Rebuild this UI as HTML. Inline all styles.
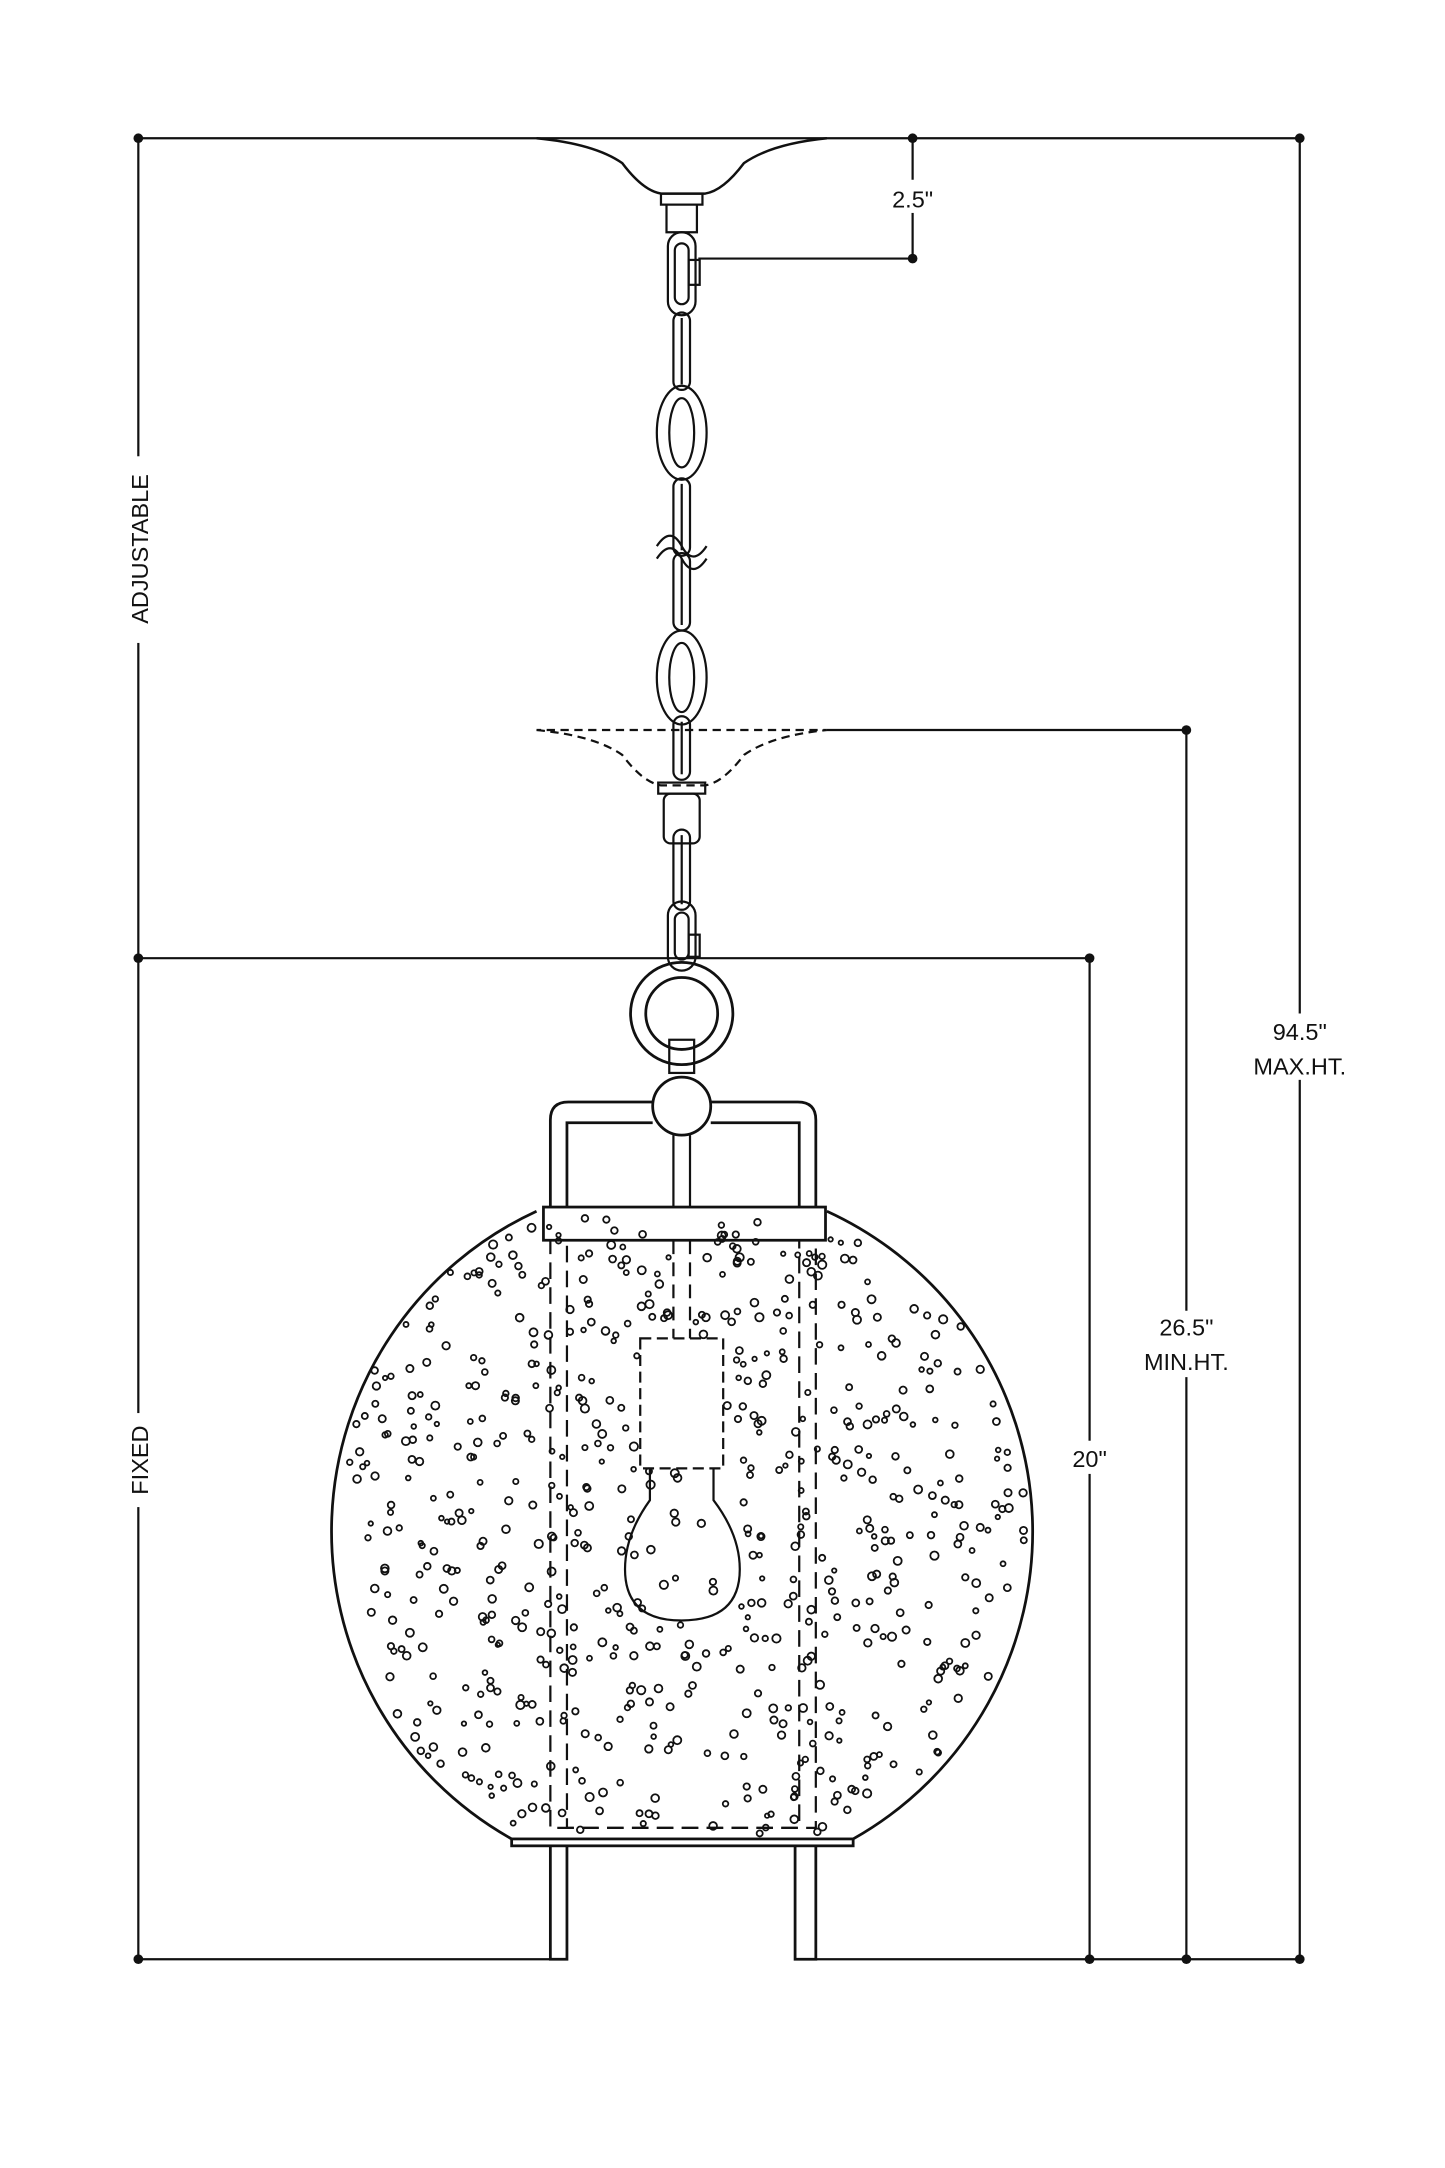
<!DOCTYPE html>
<html><head><meta charset="utf-8">
<style>
html,body{margin:0;padding:0;background:#fff;}
svg{display:block;}
text{font-family:"Liberation Sans",sans-serif;font-size:17px;fill:#111;}
</style></head>
<body>
<svg id="s" width="1445" height="2168" viewBox="0 0 1045 1568" xmlns="http://www.w3.org/2000/svg">
<g stroke="#111" stroke-width="1.6" fill="none">
<line x1="100" y1="100" x2="940" y2="100"/>
<line x1="100" y1="100" x2="100" y2="1417"/>
<line x1="940" y1="100" x2="940" y2="1417"/>
<line x1="660" y1="100" x2="660" y2="187"/>
<line x1="505" y1="187" x2="660" y2="187"/>
<line x1="598" y1="528" x2="858" y2="528"/>
<line x1="858" y1="528" x2="858" y2="1417"/>
<line x1="100" y1="693" x2="788" y2="693"/>
<line x1="788" y1="693" x2="788" y2="1417"/>
<line x1="100" y1="1417" x2="398" y2="1417"/>
<line x1="590" y1="1417" x2="940" y2="1417"/>
<path d="M388 100 Q430 104 450 118 Q465 138 478 140 L510 140 Q523 138 538 118 Q558 104 598 100" stroke-width="1.8"/>
<rect x="478" y="140" width="30" height="8"/>
<path d="M482 148 L482 168 L504 168 L504 148"/>
<path d="M388 528 Q430 532 450 546 Q465 566 478 568 L510 568 Q523 566 538 546 Q558 532 598 528 Z" stroke-dasharray="6,4"/>
<rect x="476" y="566" width="34" height="8"/>
<rect x="480" y="574" width="26" height="36" rx="5"/>
<!-- chain -->
<rect x="483" y="168" width="20" height="60" rx="10"/>
<rect x="488" y="176" width="10" height="44" rx="5"/>
<rect x="498" y="188" width="8" height="18"/>
<rect x="487" y="226" width="12" height="56" rx="6"/><line x1="493" y1="230" x2="493" y2="278"/>
<ellipse cx="493" cy="313" rx="18" ry="34"/><ellipse cx="493" cy="313" rx="9" ry="25"/>
<rect x="487" y="346" width="12" height="56" rx="6"/><line x1="493" y1="350" x2="493" y2="398"/>
<path d="M475 395 Q485 380 493 395 Q501 410 511 395"/>
<path d="M475 404 Q485 389 493 404 Q501 419 511 404"/>
<rect x="487" y="400" width="12" height="56" rx="6"/><line x1="493" y1="404" x2="493" y2="452"/>
<ellipse cx="493" cy="490" rx="18" ry="34"/><ellipse cx="493" cy="490" rx="9" ry="25"/>
<rect x="487" y="518" width="12" height="46" rx="6"/><line x1="493" y1="522" x2="493" y2="560"/>
<rect x="487" y="600" width="12" height="58" rx="6"/><line x1="493" y1="604" x2="493" y2="654"/>
<rect x="483" y="652" width="20" height="50" rx="10"/>
<rect x="488" y="660" width="10" height="34" rx="5"/>
<rect x="498" y="676" width="8" height="16"/>
<circle cx="493" cy="733" r="37" stroke-width="2"/>
<circle cx="493" cy="733" r="26" stroke-width="2"/>
<rect x="484" y="752" width="18" height="24"/>
<circle cx="493" cy="800" r="21" stroke-width="2"/>
<path d="M398 873 L398 810 Q398 797 411 797 L472 797" stroke-width="2"/>
<path d="M410 873 L410 812 L472 812" stroke-width="2"/>
<path d="M590 873 L590 810 Q590 797 577 797 L514 797" stroke-width="2"/>
<path d="M578 873 L578 812 L514 812" stroke-width="2"/>
<line x1="487" y1="821" x2="487" y2="873"/>
<line x1="499" y1="821" x2="499" y2="873"/>
<path d="M388 876 A255 255 0 0 0 370 1330 M598 876 A255 255 0 0 1 617 1330" stroke-width="2"/>
<rect x="393" y="873" width="204" height="24" stroke-width="2"/>
<rect x="370" y="1330" width="247" height="5" stroke-width="2"/>
<rect x="398" y="897" width="192" height="425" stroke-dasharray="12,6"/>
<rect x="410" y="897" width="168" height="425" stroke-dasharray="12,6"/>
<line x1="487" y1="897" x2="487" y2="968" stroke-dasharray="10,6"/>
<line x1="499" y1="897" x2="499" y2="968" stroke-dasharray="10,6"/>
<rect x="463" y="968" width="60" height="94" stroke-dasharray="8,4"/>
<path d="M470 1062 L470 1085 Q452 1110 452 1135 Q452 1172 493 1172 Q535 1172 535 1135 Q535 1110 516 1085 L516 1062"/>
<path d="M398 1335 L398 1417 L410 1417 L410 1335" stroke-width="2"/>
<path d="M575 1335 L575 1417 L590 1417 L590 1335" stroke-width="2"/>
<g id="dots" stroke-width="1.3"></g>
</g>
<g fill="#111">
<circle cx="100" cy="100" r="3.5"/><circle cx="660" cy="100" r="3.5"/><circle cx="940" cy="100" r="3.5"/>
<circle cx="660" cy="187" r="3.5"/><circle cx="858" cy="528" r="3.5"/>
<circle cx="100" cy="693" r="3.5"/><circle cx="788" cy="693" r="3.5"/>
<circle cx="100" cy="1417" r="3.5"/><circle cx="788" cy="1417" r="3.5"/><circle cx="858" cy="1417" r="3.5"/><circle cx="940" cy="1417" r="3.5"/>
</g>
<rect x="636" y="130" width="48" height="24" fill="#fff"/>
<text x="660" y="150" text-anchor="middle">2.5"</text>
<rect x="90" y="330" width="20" height="135" fill="#fff"/>
<text transform="translate(107,397) rotate(-90)" text-anchor="middle">ADJUSTABLE</text>
<rect x="90" y="1022" width="20" height="68" fill="#fff"/>
<text transform="translate(107,1056) rotate(-90)" text-anchor="middle">FIXED</text>
<rect x="770" y="1042" width="36" height="24" fill="#fff"/>
<text x="788" y="1061" text-anchor="middle">20"</text>
<rect x="818" y="948" width="82" height="48" fill="#fff"/>
<text x="858" y="966" text-anchor="middle">26.5"</text>
<text x="858" y="991" text-anchor="middle">MIN.HT.</text>
<rect x="895" y="733" width="92" height="48" fill="#fff"/>
<text x="940" y="752" text-anchor="middle">94.5"</text>
<text x="940" y="777" text-anchor="middle">MAX.HT.</text>
</svg>
<script>
var g=document.getElementById('dots'),s=12345;
function r(){s=(s*16807)%2147483647;return s/2147483647;}
var n=0,cx=493,cy=1105,R=250;
while(n<650){var x=240+r()*510,y=878+r()*448;
var dx=x-cx,dy=y-cy;if(dx*dx+dy*dy>R*R-200)continue;
if(x>461&&x<525&&y>966&&y<1064)continue;
var c=document.createElementNS('http://www.w3.org/2000/svg','circle');
c.setAttribute('cx',x.toFixed(1));c.setAttribute('cy',y.toFixed(1));c.setAttribute('r',(1.6+r()*1.4).toFixed(1));
g.appendChild(c);n++;}
</script>
</body></html>
